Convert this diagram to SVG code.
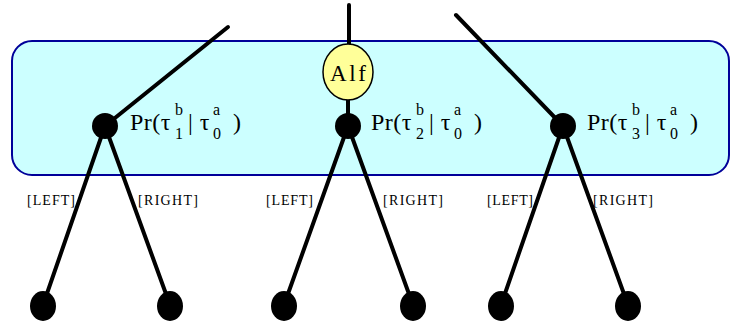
<svg xmlns="http://www.w3.org/2000/svg" width="731" height="329" viewBox="0 0 731 329">
<style>
.edge{stroke:#000;stroke-width:4;stroke-linecap:round;fill:none}
.dot{fill:#000}
.t{font-family:"Liberation Serif","Times New Roman",serif;fill:#000}
.lbl{font-family:"Liberation Serif","Times New Roman",serif;font-size:14px;fill:#000}
.pr{font-size:24px;letter-spacing:0.5px}
.sm{font-size:16px}
</style>
<rect x="12" y="41" width="717" height="134" rx="20" ry="20" fill="#CCFFFF" stroke="#000099" stroke-width="2"/>
<g id="connectors">
<line class="edge" x1="228" y1="27" x2="105" y2="126"/>
<line class="edge" x1="349" y1="5" x2="349" y2="44"/>
<line class="edge" x1="456" y1="15" x2="563" y2="126"/>
<line class="edge" x1="348" y1="98" x2="348" y2="126"/>
<line class="edge" x1="105" y1="126" x2="43" y2="305"/>
<line class="edge" x1="105" y1="126" x2="170" y2="305"/>
<line class="edge" x1="348" y1="126" x2="284" y2="305"/>
<line class="edge" x1="348" y1="126" x2="413" y2="305"/>
<line class="edge" x1="563" y1="126" x2="501" y2="305"/>
<line class="edge" x1="563" y1="126" x2="628" y2="305"/>
</g>
<g id="labels">
<text class="lbl" x="27" y="205" textLength="48" lengthAdjust="spacing">[LEFT]</text>
<text class="lbl" x="138" y="205" textLength="60" lengthAdjust="spacing">[RIGHT]</text>
<text class="lbl" x="266" y="205" textLength="47" lengthAdjust="spacing">[LEFT]</text>
<text class="lbl" x="383" y="205" textLength="60" lengthAdjust="spacing">[RIGHT]</text>
<text class="lbl" x="487" y="205" textLength="46" lengthAdjust="spacing">[LEFT]</text>
<text class="lbl" x="593" y="205" textLength="60" lengthAdjust="spacing">[RIGHT]</text>
</g>
<g id="alf">
<ellipse cx="348" cy="72" rx="25" ry="28" fill="#FFFF99" stroke="#000" stroke-width="1.5"/>
<text class="t" x="348" y="81" font-size="23" text-anchor="middle" textLength="36" lengthAdjust="spacing">Alf</text>
</g>
<g id="node1">
<circle class="dot" cx="105" cy="126" r="13"/>
<text class="t"><tspan class="pr" x="130" y="130">Pr(τ</tspan><tspan class="sm" x="175" y="115">b</tspan><tspan class="sm" x="175" y="139">1</tspan><tspan class="pr" x="188" y="130">| τ</tspan><tspan class="sm" x="213" y="115">a</tspan><tspan class="sm" x="213" y="139">0</tspan><tspan class="pr" x="233" y="130">)</tspan></text>
</g>
<g id="node2">
<circle class="dot" cx="348" cy="126" r="13"/>
<text class="t"><tspan class="pr" x="371" y="130">Pr(τ</tspan><tspan class="sm" x="416" y="115">b</tspan><tspan class="sm" x="416" y="139">2</tspan><tspan class="pr" x="429" y="130">| τ</tspan><tspan class="sm" x="454" y="115">a</tspan><tspan class="sm" x="454" y="139">0</tspan><tspan class="pr" x="474" y="130">)</tspan></text>
</g>
<g id="node3">
<circle class="dot" cx="563" cy="126" r="13"/>
<text class="t"><tspan class="pr" x="587" y="130">Pr(τ</tspan><tspan class="sm" x="632" y="115">b</tspan><tspan class="sm" x="632" y="139">3</tspan><tspan class="pr" x="645" y="130">| τ</tspan><tspan class="sm" x="670" y="115">a</tspan><tspan class="sm" x="670" y="139">0</tspan><tspan class="pr" x="690" y="130">)</tspan></text>
</g>
<g id="leaf1"><ellipse class="dot" cx="43" cy="306" rx="13" ry="15"/></g>
<g id="leaf2"><ellipse class="dot" cx="170" cy="306" rx="13" ry="15"/></g>
<g id="leaf3"><ellipse class="dot" cx="284" cy="306" rx="13" ry="15"/></g>
<g id="leaf4"><ellipse class="dot" cx="413" cy="306" rx="13" ry="15"/></g>
<g id="leaf5"><ellipse class="dot" cx="501" cy="306" rx="13" ry="15"/></g>
<g id="leaf6"><ellipse class="dot" cx="628" cy="306" rx="13" ry="15"/></g>
</svg>
